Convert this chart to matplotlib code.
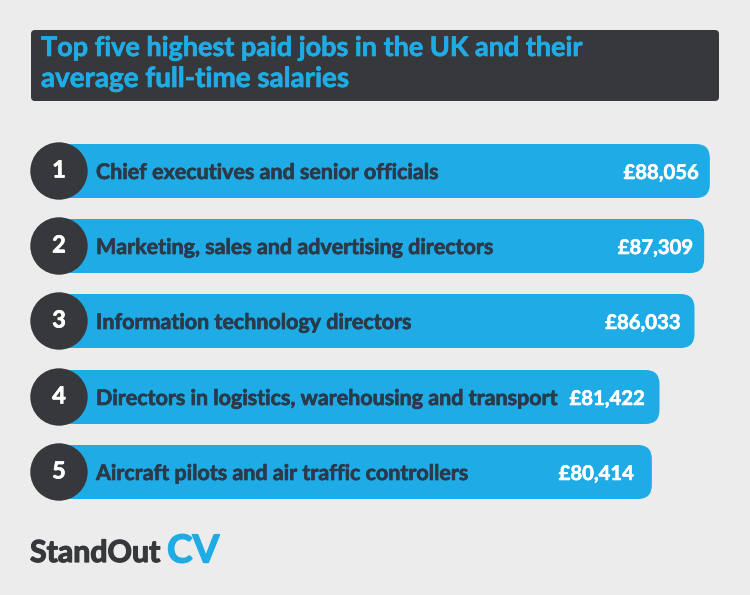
import matplotlib.pyplot as plt
import matplotlib.patheffects as pe
from matplotlib.patches import FancyBboxPatch, Circle

# values
ranks = ["1", "2", "3", "4", "5"]
jobs = [
    "Chief executives and senior officials",
    "Marketing, sales and advertising directors",
    "Information technology directors",
    "Directors in logistics, warehousing and transport",
    "Aircraft pilots and air traffic controllers",
]
salaries = [88056, 87309, 86033, 81422, 80414]
title_lines = ["Top five highest paid jobs in the UK and their", "average full-time salaries"]

# layout, in pixels
W, H = 750, 595
PX_PER_POUND = 0.00759
ZERO_PX = 41.5
row_y = [171, 246, 321, 397, 472]
label_gap = [11, 11, 14, 15, 18]
BAR_H = 54

BG = "#ececec"
BLUE = "#1fabe5"
DARK = "#36383b"
NAVY = "#2b3a4b"

plt.rcParams["font.family"] = ["Lato", "DejaVu Sans"]


def heavy(width, color):
    # Lato bold is a bit light next to the original lettering
    return [pe.withStroke(linewidth=width, foreground=color)]


fig = plt.figure(figsize=(W / 100, H / 100), dpi=100, facecolor=BG)

# bars sit on a pound scale
bar_ax = fig.add_axes([0, 0, 1, 1])
bar_ax.set_xlim(-ZERO_PX / PX_PER_POUND, (W - ZERO_PX) / PX_PER_POUND)
bar_ax.set_ylim(H, 0)
bar_ax.axis("off")

# everything else is in plain pixels
ax = fig.add_axes([0, 0, 1, 1])
ax.set_xlim(0, W)
ax.set_ylim(H, 0)
ax.axis("off")
ax.patch.set_alpha(0)

for y, sal in zip(row_y, salaries):
    bar_ax.add_patch(FancyBboxPatch(
        (0, y - BAR_H / 2), sal, BAR_H,
        boxstyle=f"round,pad=0,rounding_size={14 / PX_PER_POUND}",
        mutation_aspect=PX_PER_POUND, fc=BLUE, ec="none"))

# title box
ax.add_patch(FancyBboxPatch((31, 30), 688, 71, boxstyle="round,pad=0,rounding_size=4",
                            fc=DARK, ec="none"))
ax.text(41, 48, title_lines[0], color=BLUE, fontsize=19.45, fontweight="bold", va="center", ha="left",
        path_effects=heavy(0.5, BLUE))
ax.text(41, 79, title_lines[1], color=BLUE, fontsize=20, fontweight="bold", va="center", ha="left",
        path_effects=heavy(0.5, BLUE))

for i in range(5):
    y = row_y[i]
    ax.add_patch(Circle((59, y), 28.7, fc=DARK, ec="none"))
    ax.text(59, y - 1, ranks[i], color="white", fontsize=17, fontweight="bold", ha="center", va="center",
            path_effects=heavy(0.5, "white"))
    ax.text(96, y + 2, jobs[i], color=NAVY, fontsize=15.45, fontweight="bold", ha="left", va="center",
            path_effects=heavy(0.5, NAVY))
    right = ZERO_PX + salaries[i] * PX_PER_POUND - label_gap[i]
    ax.text(right, y + 2, f"£{salaries[i]:,}", color="white", fontsize=14.6, fontweight="bold",
            ha="right", va="center", path_effects=heavy(0.4, "white"))

# logo
ax.text(30, 553, "StandOut", color=DARK, fontsize=21.8, fontweight="bold", ha="left", va="center",
        path_effects=heavy(0.9, DARK))
ax.text(167, 551, "CV", color=BLUE, fontsize=27.8, fontweight="bold", ha="left", va="center",
        path_effects=heavy(1.0, BLUE))

fig.savefig("out.png", dpi=100, facecolor=BG)
